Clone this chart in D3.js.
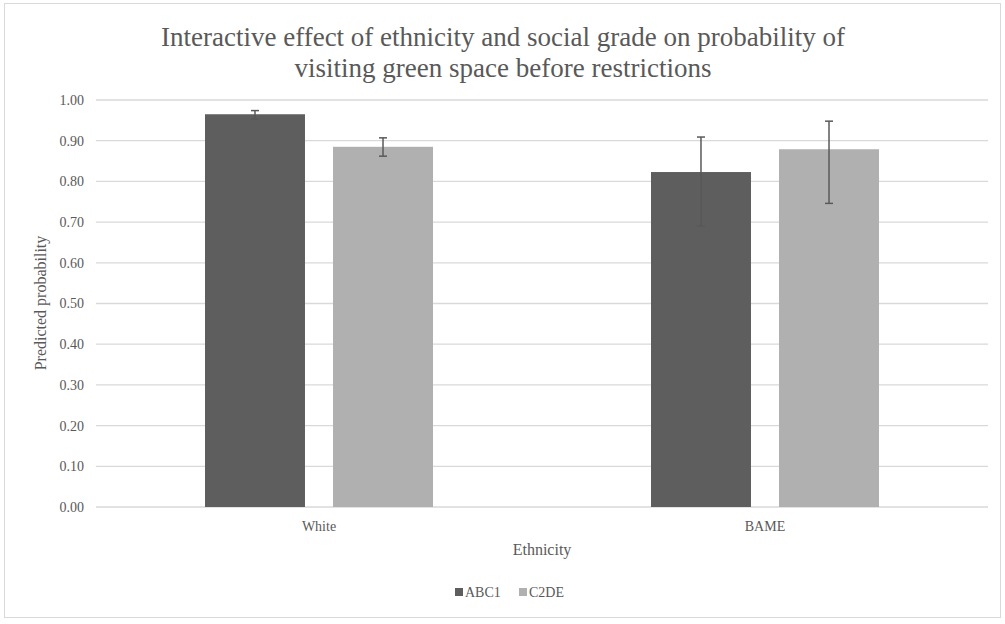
<!DOCTYPE html>
<html><head><meta charset="utf-8">
<script src="https://cdn.jsdelivr.net/npm/d3@7"></script>
<style>body{margin:0;background:#fff;}</style>
</head><body><svg id="c" width="1005" height="624"></svg>
<script>
const categories = ["White", "BAME"];
const series = ["ABC1", "C2DE"];
const values = {ABC1: [0.965, 0.823], C2DE: [0.885, 0.879]};
const errLow = {ABC1: [0.953, 0.690], C2DE: [0.862, 0.746]};
const errHigh = {ABC1: [0.974, 0.909], C2DE: [0.907, 0.948]};
const yTicks = [0,0.1,0.2,0.3,0.4,0.5,0.6,0.7,0.8,0.9,1.0];
const colors = {ABC1: "#5e5e5e", C2DE: "#b0b0b0"};

(function(){
const FONT = "'Liberation Serif', 'DejaVu Serif', serif";
const svg = d3.select("#c").attr("font-family", FONT);
svg.append("rect").attr("x",4.5).attr("y",3.5).attr("width",996).attr("height",614)
  .attr("fill","#fff").attr("stroke","#d9d9d9");

const pL=96, pR=988, pT=100, pB=507;
const x = d3.scaleBand().domain(categories).range([pL,pR]);
const x1 = d3.scaleBand().domain(series).range([0,228]).paddingInner(0.219);
const y = d3.scaleLinear().domain([0,1]).range([pB,pT]);

svg.append("g").selectAll("line").data(yTicks).join("line")
  .attr("x1",pL).attr("x2",pR).attr("y1",d=>y(d)).attr("y2",d=>y(d))
  .attr("stroke","#d9d9d9").attr("stroke-width",1.3);

svg.append("g").selectAll("text").data(yTicks).join("text")
  .attr("x",84).attr("y",d=>y(d)).attr("dy","0.35em").attr("text-anchor","end")
  .attr("font-family",FONT).attr("font-size",14).attr("fill","#595959").text(d=>d3.format(".2f")(d));

const off = (x.bandwidth()-228)/2;
series.forEach(s=>{
  const g = svg.append("g");
  g.selectAll("rect").data(categories).join("rect")
    .attr("x",c=>x(c)+off+x1(s)).attr("width",x1.bandwidth())
    .attr("y",(c,i)=>y(values[s][i])).attr("height",(c,i)=>y(0)-y(values[s][i]))
    .attr("fill",colors[s]);
});
series.forEach(s=>{
  categories.forEach((c,i)=>{
    const cx = x(c)+off+x1(s)+x1.bandwidth()/2;
    const g = svg.append("g").attr("stroke","#595959").attr("stroke-width",1.5);
    g.append("line").attr("x1",cx).attr("x2",cx).attr("y1",y(errLow[s][i])).attr("y2",y(errHigh[s][i]));
    g.append("line").attr("x1",cx-4).attr("x2",cx+4).attr("y1",y(errLow[s][i])).attr("y2",y(errLow[s][i]));
    g.append("line").attr("x1",cx-4).attr("x2",cx+4).attr("y1",y(errHigh[s][i])).attr("y2",y(errHigh[s][i]));
  });
});

svg.append("g").selectAll("text").data(categories).join("text")
  .attr("x",c=>x(c)+x.bandwidth()/2).attr("y",531).attr("text-anchor","middle")
  .attr("font-family",FONT).attr("font-size",14).attr("fill","#595959").text(d=>d);

svg.append("text").attr("x",(pL+pR)/2).attr("y",555).attr("text-anchor","middle")
  .attr("font-family",FONT).attr("font-size",16).attr("fill","#595959").text("Ethnicity");

svg.append("text").attr("transform","translate(46,303) rotate(-90)").attr("text-anchor","middle")
  .attr("font-family",FONT).attr("font-size",16).attr("fill","#595959").text("Predicted probability");

const title = svg.append("text").attr("text-anchor","middle").attr("font-family",FONT)
  .attr("font-size",27).attr("fill","#595959");
title.append("tspan").attr("x",503).attr("y",46).text("Interactive effect of ethnicity and social grade on probability of");
title.append("tspan").attr("x",503).attr("y",77).text("visiting green space before restrictions");

const leg = svg.append("g").attr("transform","translate(455,597)");
const legX = [0, 64];
series.forEach((s,i)=>{
  leg.append("rect").attr("x",legX[i]).attr("y",-9).attr("width",8).attr("height",8).attr("fill",colors[s]);
  leg.append("text").attr("x",legX[i]+10).attr("y",0).attr("font-family",FONT).attr("font-size",14).attr("fill","#595959").text(s);
});
})();
</script></body></html>
